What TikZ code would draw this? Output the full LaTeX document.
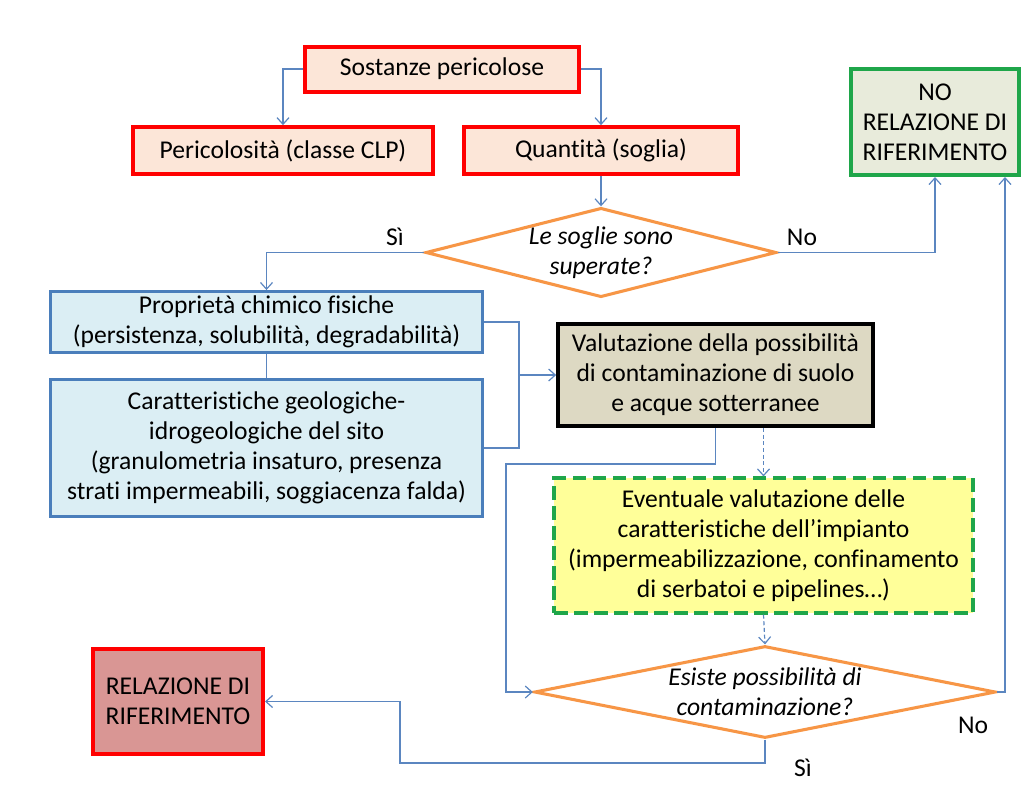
\documentclass[tikz,border=0pt]{standalone}
\usepackage{fontspec}
\setmainfont{Carlito}[Ligatures=CommonOff]
\usepackage{tikz}
\usetikzlibrary{shapes.geometric,arrows.meta,calc}
\definecolor{boxred}{HTML}{FF0000}
\definecolor{peach}{HTML}{FCE6D8}
\definecolor{boxblue}{HTML}{4A7EBB}
\definecolor{lightblue}{HTML}{DBEEF4}
\definecolor{boxgreen}{HTML}{1FA64A}
\definecolor{greygreen}{HTML}{E8EBDB}
\definecolor{tan}{HTML}{DDD9C3}
\definecolor{paleyellow}{HTML}{FFFF99}
\definecolor{dustyred}{HTML}{D99694}
\definecolor{orangeline}{HTML}{F79646}
\definecolor{linkblue}{HTML}{5B86C0}

\begin{document}
\begin{tikzpicture}[x=0.75pt,y=-0.75pt,
  every node/.style={font=\fontsize{19.2}{22.5}\selectfont, align=center, inner sep=0pt},
  redbox/.style={draw=boxred, line width=3pt, fill=peach},
  bluebox/.style={draw=boxblue, line width=2.2pt, fill=lightblue},
  decision/.style={diamond, draw=orangeline, line width=2.3pt, fill=white,
    font=\fontsize{19.2}{22.5}\selectfont\itshape},
  flow/.style={draw=linkblue, line width=0.9pt, -{Straight Barb[length=5pt,width=9pt]}},
  link/.style={draw=linkblue, line width=0.9pt},
  dashflow/.style={flow, dash pattern=on 3pt off 2pt}]
\useasboundingbox (0,0) rectangle (1024,794);

% boxes
\node[redbox, minimum width=205.5pt, minimum height=33.75pt] (sost) at (442,69) {Sostanze pericolose};
\node[redbox, minimum width=225pt, minimum height=35pt] (peric) at (283,150.5) {Pericolosità (classe CLP)};
\node[redbox, minimum width=205.5pt, minimum height=35pt] (quant) at (601,150.5) {Quantità (soglia)};
\node[decision, aspect=3.9, minimum width=263pt, minimum height=67pt] (soglie) at (601,252.5) {Le soglie sono\\superate?};
\node[draw=boxgreen, line width=3pt, fill=greygreen, minimum width=126pt, minimum height=79.5pt] (nori) at (935,122) {NO\\RELAZIONE DI\\RIFERIMENTO};
\node[bluebox, minimum width=324pt, minimum height=45.75pt] (prop) at (266.5,322) {Proprietà chimico fisiche\\(persistenza, solubilità, degradabilità)};
\node[bluebox, minimum width=324pt, minimum height=102.75pt] (car) at (266.5,448) {Caratteristiche geologiche-\\idrogeologiche del sito\\(granulometria insaturo, presenza\\strati impermeabili, soggiacenza falda)};
\node[draw=black, line width=3pt, fill=tan, minimum width=236pt, minimum height=76.5pt] (valut) at (715.5,375) {Valutazione della possibilità\\di contaminazione di suolo\\e acque sotterranee};
\node[draw=boxgreen, line width=2.6pt, dash pattern=on 10pt off 5pt, fill=paleyellow, minimum width=314pt, minimum height=101pt] (event) at (763.5,545.5) {Eventuale valutazione delle\\caratteristiche dell’impianto\\(impermeabilizzazione, confinamento\\di serbatoi e pipelines…)};
\node[decision, aspect=4.9, minimum width=346pt, minimum height=69pt] (esiste) at (765,692) {Esiste possibilità di\\contaminazione?};
\node[draw=boxred, line width=3pt, fill=dustyred, minimum width=127.5pt, minimum height=78.75pt] (rel) at (178,701.5) {RELAZIONE DI\\RIFERIMENTO};

% labels
\node (si1) at (395,237) {Sì};
\node (no1) at (802,237) {No};
\node (no2) at (973,725) {No};
\node (si2) at (803,768) {Sì};

\coordinate (j) at (519,375);
\coordinate (k) at (506,464);
\coordinate (m) at (1005,692);
\coordinate (n) at (400,763);

% connectors
\draw[flow] (sost.west) -| (peric.north);
\draw[flow] (sost.east) -| (quant.north);
\draw[flow] (quant.south) -- (soglie.north);
\draw[flow] (soglie.west) -| (prop.north);
\draw[flow] (soglie.east) -| (nori.south);
\draw[link] (prop.south) -- (car.north);
\draw[link] (prop.east) -| (j) |- (car.east);
\draw[flow] (j) -- (valut.west);
\draw[dashflow] (event.north |- valut.south) -- (event.north);
\draw[dashflow] (event.south) -- (esiste.north);
\draw[flow] (valut.south) |- (k) |- (esiste.west);
\draw[flow] (esiste.east) -- (m) -- (m |- nori.south);
\draw[flow] (esiste.south) |- (n) |- (rel.east);
\end{tikzpicture}
\end{document}
